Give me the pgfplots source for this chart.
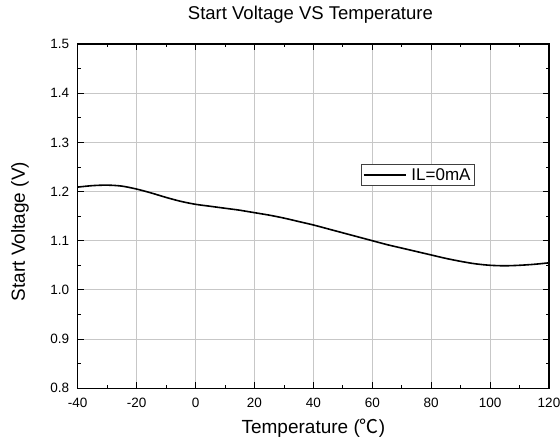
\documentclass[border=0pt]{standalone}
\usepackage{pgfplots}
\pgfplotsset{compat=1.18}
\usepackage{fontspec}
\setmainfont{Liberation Sans}
\newfontfamily\cjk{Noto Sans CJK SC}
\begin{document}
\begin{tikzpicture}
\begin{axis}[
  scale only axis, width=471bp, height=344bp,
  xmin=-40, xmax=120, ymin=0.8, ymax=1.5,
  xtick={-40,-20,0,20,40,60,80,100,120},
  xticklabels={-40,-20,0,20,40,60,80,100,120},
  ytick={0.8,0.9,1.0,1.1,1.2,1.3,1.4,1.5},
  yticklabels={0.8,0.9,1.0,1.1,1.2,1.3,1.4,1.5},
  minor x tick num=1, minor y tick num=1,
  grid=major, major grid style={black!22, line width=0.8bp},
  tick style={black, line width=0.8bp},
  major tick length=6bp, minor tick length=3bp,
  axis line style={black, line width=1.2bp},
  ticklabel style={font=\fontsize{13.5bp}{15bp}\selectfont},
  xticklabel style={anchor=base, inner sep=0pt, yshift=-19bp},
  yticklabel style={anchor=east, inner sep=0pt, xshift=-8.5bp},
  title={Start Voltage VS Temperature},
  title style={at={(axis description cs:0.5,1)}, anchor=base, yshift=19bp, xshift=-3bp, font=\fontsize{18.5bp}{20bp}\selectfont},
  xlabel={Temperature ({\cjk ℃})},
  xlabel style={at={(axis description cs:0.5,0)}, anchor=base, yshift=-45bp, font=\fontsize{19bp}{21bp}\selectfont},
  ylabel={Start Voltage (V)},
  ylabel style={at={(axis description cs:-0.112,0.455)}, anchor=base, font=\fontsize{19bp}{21bp}\selectfont},
  legend style={at={(0.601,0.65)}, anchor=north west, draw=black!75, line width=0.8bp,
    font=\fontsize{17bp}{18bp}\selectfont, inner xsep=1.5bp, inner ysep=1.5bp,
    /tikz/every odd column/.append style={column sep=3bp}},
  legend image code/.code={\draw[#1, line width=1.6bp] (0bp,0bp) -- (42bp,0bp);},
]
\addplot[black, line width=1.6bp, smooth] coordinates {
(-40,1.209) (-35,1.212) (-30,1.213) (-25,1.211) (-20,1.205) (-15,1.197)
(-10,1.188) (-5,1.180) (0,1.174) (5,1.170) (10,1.166) (15,1.162)
(20,1.157) (25,1.152) (30,1.146) (35,1.139) (40,1.132) (45,1.124)
(50,1.116) (55,1.108) (60,1.100) (65,1.092) (70,1.085) (75,1.078)
(80,1.071) (85,1.064) (90,1.058) (95,1.053) (100,1.050) (105,1.049)
(110,1.050) (115,1.052) (120,1.055)
};
\addlegendentry{IL=0mA}
\end{axis}
\pgfresetboundingbox
\path[use as bounding box] ([xshift=-77.7bp,yshift=-55bp]current axis.south west) rectangle ([xshift=11bp,yshift=44bp]current axis.north east);
\end{tikzpicture}
\end{document}
